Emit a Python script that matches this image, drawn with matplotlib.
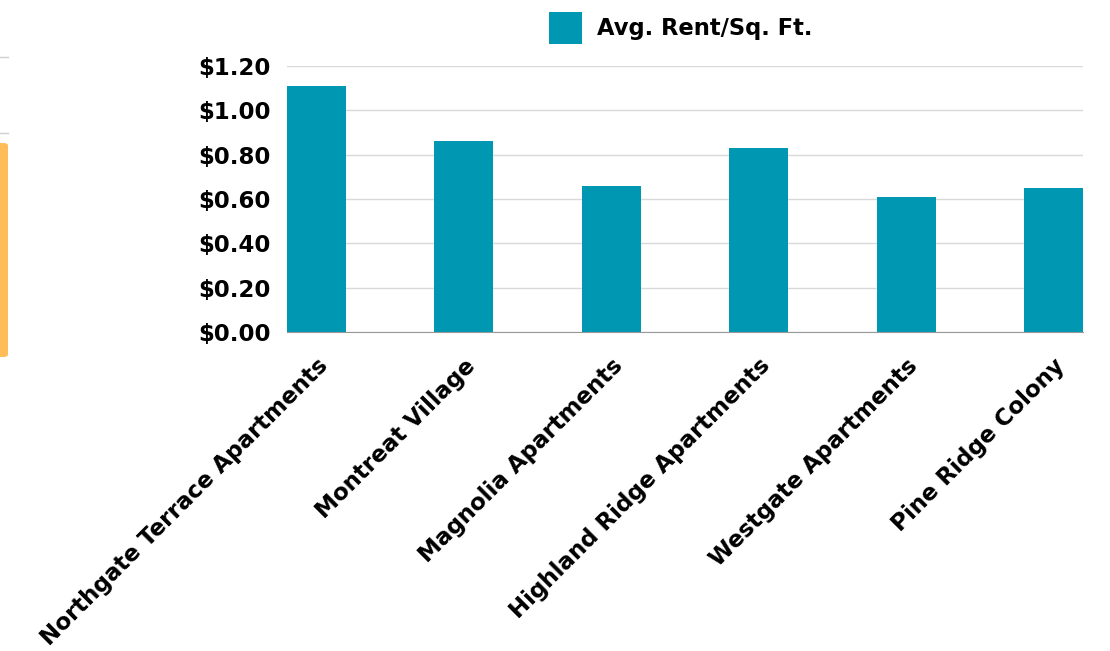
import matplotlib
matplotlib.use('Agg')
import matplotlib.pyplot as plt
from matplotlib.patches import FancyBboxPatch, Rectangle
from matplotlib.lines import Line2D
import numpy as np

plt.rcParams['font.family'] = ['DejaVu Sans']

properties = ['Northgate Terrace Apartments', 'Montreat Village', 'Magnolia Apartments',
              'Highland Ridge Apartments', 'Westgate Apartments', 'Pine Ridge Colony']
rent_sqft = [1.11, 0.86, 0.66, 0.83, 0.61, 0.65]
yticks = [0.0, 0.2, 0.4, 0.6, 0.8, 1.0, 1.2]
series_name = 'Avg. Rent/Sq. Ft.'

bar_color = '#0097b2'

fig = plt.figure(figsize=(11.1, 6.51), dpi=100)
ax = fig.add_axes([0.2586, 0.49, 0.7171, 0.4086])

x = np.arange(len(properties))
ax.bar(x, rent_sqft, width=0.4, color=bar_color, zorder=3)
ax.set_xlim(-0.2, len(properties) - 0.8)
ax.set_ylim(0, 1.2)

ax.set_yticks(yticks)
ax.set_yticklabels(['${:.2f}'.format(v) for v in yticks], fontsize=16.5, fontweight='bold')
ax.set_xticks(x)
ax.set_xticklabels(properties, rotation=45, ha='right', rotation_mode='anchor',
                   fontsize=16.6, fontweight='bold')
ax.tick_params(axis='y', length=0, pad=12)
ax.tick_params(axis='x', length=0, pad=16)

ax.grid(axis='y', color='#d9d9d9', linewidth=1, zorder=0)
for side in ['top', 'right', 'left']:
    ax.spines[side].set_visible(False)
ax.spines['bottom'].set_color('#999999')
ax.spines['bottom'].set_zorder(4)

# legend drawn by hand at the top
fig.patches.append(Rectangle((549 / 1110, 1 - 44 / 651), 33 / 1110, 32 / 651,
                             transform=fig.transFigure, facecolor=bar_color,
                             edgecolor='none'))
fig.text(597 / 1110, 1 - 28 / 651, series_name, fontsize=16.3, fontweight='bold',
         va='center', ha='left')

# bits of the surrounding page on the left edge
for yy in [57, 133]:
    fig.lines.append(Line2D([0, 8 / 1110], [1 - yy / 651] * 2, transform=fig.transFigure,
                            color='#d0d0d0', linewidth=1))
fig.patches.append(FancyBboxPatch((-10 / 1110, 1 - 357 / 651), 18 / 1110, 214 / 651,
                                  boxstyle='round,pad=0,rounding_size=0.004',
                                  transform=fig.transFigure, facecolor='#ffbd59',
                                  edgecolor='none'))

fig.savefig('out.png', dpi=100)
